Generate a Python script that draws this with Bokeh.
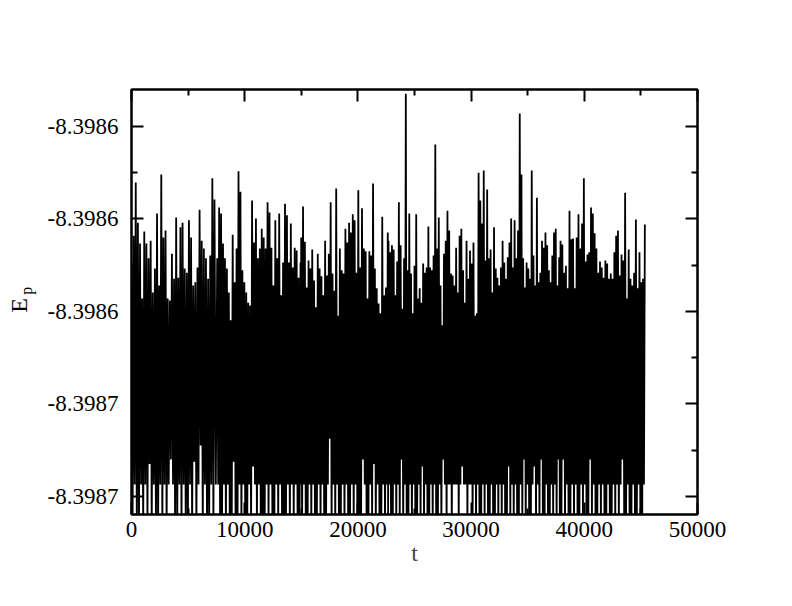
import numpy as np
from bokeh.plotting import figure
from bokeh.layouts import row
from bokeh.models import (Range1d, LinearAxis, FixedTicker, PrintfTickFormatter,
                          CustomJSTickFormatter)
from bokeh.core.properties import value
from bokeh.embed import file_html
from bokeh.resources import INLINE

# ---------------- data ----------------
E_REF = -8.39868      # reference energy
UNIT = 1e-7           # peak / low values below are in units of 1e-7 above E_REF

# time windows (start, end) of the six groups of samples
win_t = [(0, 7330), (7570, 14930), (14990, 22640),
         (22700, 30210), (30360, 37780), (37900, 45350)]

# local maxima of E_p (units of 1e-7 above E_REF)
peaks_1 = [506, 564, 679, 592, 547, 428, 573, 547, 515, 553, 441, 493, 612, 456, 696, 560,
           575, 428, 424, 525, 471, 603, 473, 582, 592, 493, 484, 597, 560, 456, 463, 495,
           620, 553, 536, 515, 471, 521, 688, 642]
peaks_2 = [515, 625, 612, 547, 515, 493, 441, 381, 566, 463, 536, 703, 659, 489, 463, 441,
           419, 413, 640, 549, 601, 515, 536, 579, 560, 536, 636, 614, 538, 456, 597, 515,
           612, 435, 506, 633, 608, 506, 590, 495, 538, 532, 473, 506]
peaks_3 = [560, 627, 551, 452, 510, 493, 534, 467, 409, 525, 493, 476, 435, 553, 478, 525,
           636, 482, 445, 666, 391, 536, 489, 482, 579, 549, 592, 571, 610, 597, 484, 662,
           495, 623, 536, 530, 428, 530, 521, 677, 493, 450, 417, 396, 605, 435, 452, 571]
peaks_4 = [553, 528, 543, 534, 435, 508, 636, 543, 406, 515, 871, 489, 612, 482, 396, 499,
           610, 428, 450, 419, 504, 484, 495, 584, 495, 489, 521, 761, 536, 603, 456, 370,
           525, 553, 618, 575, 482, 478, 456, 538, 441, 564, 579, 489, 419, 553, 471, 532,
           504, 549]
peaks_5 = [391, 396, 700, 640, 590, 705, 510, 664, 515, 534, 441, 582, 493, 473, 456, 495,
           553, 506, 471, 517, 549, 601, 495, 597, 515, 575, 828, 696, 515, 452, 506, 493,
           471, 705, 521, 456, 646, 463, 484, 553, 538, 571, 543, 489, 463, 521, 571, 579,
           456, 517]
peaks_6 = [553, 545, 484, 499, 450, 618, 556, 558, 450, 560, 610, 536, 590, 688, 508, 523,
           528, 625, 612, 569, 536, 484, 508, 495, 473, 510, 504, 471, 482, 471, 528, 564,
           575, 478, 523, 510, 657, 428, 534, 471, 456, 484, 599, 450, 528, 463, 471, 588]

# local minima between consecutive maxima (same units)
lows_1 = [-80, 26, -80, -80, 26, -80, 26, -80, 70, -80,
          26, -80, -80, 26, -80, 26, -80, 26, 80, 26,
          -80, -80, 26, -80, 26, -80, -80, 26, -80, 75,
          -80, 26, 110, -80, 26, -80, -80, 26, -80, 26]
lows_2 = [26, -80, -80, 26, -80, 26, -80, -80, 75, -80,
          -80, 26, -80, 26, -80, -80, 26, -80, 65, 26,
          -80, 26, -80, -80, -80, 26, -80, 26, -80, -80,
          26, -80, 26, -80, -80, -80, 26, -80, 26, -80,
          26, -80, -80, 26]
lows_3 = [-80, 26, -80, -80, 26, -80, 26, -80, -80, 26,
          -80, 26, -80, -80, 26, 125, -80, 26, -80, 26,
          -80, -80, 26, -80, 26, -80, -80, 26, -80, 26,
          -80, -80, -80, 80, 26, -80, -80, 26, -80, 70,
          -80, 26, -80, -80, 26, -80, 26, -80]
lows_4 = [26, -80, -80, 26, -80, 26, -80, 80, -80, 26,
          -80, -80, 26, -80, 26, -80, -80, 26, -80, 65,
          -80, 26, -80, -80, 26, -80, 26, -80, -80, 26,
          -80, 80, 26, -80, 26, 26, -80, 26, 26, 26,
          -80, 26, 65, 26, 26, -80, 26, 26, -80, 26]
lows_5 = [-80, 26, -80, -80, 26, -80, 26, -80, -80, 26,
          -80, -80, 26, -80, 26, -80, 26, -80, -80, 65,
          -80, 26, -80, 26, -80, -80, 26, -80, 80, -80,
          26, -80, -80, 26, 65, -80, 26, -80, 80, -80,
          -80, 26, -80, -80, 26, -80, 26, -80, 80, -80]
lows_6 = [-80, 80, -80, 26, -80, -80, 26, -80, 26, -80,
          -80, 26, -80, 26, -80, -80, 80, -80, 26, -80,
          -80, 26, -80, 26, -80, -80, 26, -80, -80, 26,
          -80, 26, -80, 26, 80, -80, -80, 26, -80, -80,
          26, -80, -80, 26, -80, -80, 26]

x_ticks = [0, 10000, 20000, 30000, 40000, 50000]
x_minor = [5000, 15000, 25000, 35000, 45000]
y_ticks = [-8.39868, -8.39866, -8.39864, -8.39862, -8.39860]
y_minor = [-8.39867, -8.39865, -8.39863, -8.39861]

# ---------------- build the series ----------------
peaks = [peaks_1, peaks_2, peaks_3, peaks_4, peaks_5, peaks_6]
lows = [lows_1, lows_2, lows_3, lows_4, lows_5, lows_6]
tp = np.concatenate([np.linspace(a, b, len(pk)) for (a, b), pk in zip(win_t, peaks)])
ep = E_REF + np.concatenate(peaks) * UNIT
el = E_REF + np.concatenate(lows) * UNIT
tl = (tp[:-1] + tp[1:]) / 2.0
n = len(tp)
t = np.empty(2 * n - 1)
e = np.empty(2 * n - 1)
t[0::2] = tp
e[0::2] = ep
t[1::2] = tl
e[1::2] = el

FONT = "Liberation Serif"
H = 600
LEFT_W = 40

p = figure(width=740, height=H, output_backend="svg", toolbar_location=None,
           x_range=Range1d(0, 50000), y_range=Range1d(-8.3986839, -8.398592),
           min_border_left=91, min_border_right=83, min_border_top=89, min_border_bottom=86,
           background_fill_color="white", border_fill_color="white")
p.grid.visible = False
p.outline_line_color = "black"
p.outline_line_width = 2

p.line(t, e, line_color="black", line_width=1.8, line_join="bevel")

def style(ax, labels=True):
    ax.axis_line_color = "black"
    ax.axis_line_width = 2
    ax.major_tick_in = 12
    ax.major_tick_out = 0
    ax.minor_tick_in = 6
    ax.minor_tick_out = 0
    ax.major_tick_line_width = 2
    ax.minor_tick_line_width = 2
    ax.major_label_text_font = FONT
    ax.major_label_text_font_size = "23px"
    ax.major_label_text_color = "black"
    ax.axis_label_text_font = FONT
    ax.axis_label_text_font_style = "normal"
    ax.axis_label_text_font_size = "24px"
    if not labels:
        ax.formatter = CustomJSTickFormatter(code="return ''")

xb = p.xaxis[0]
xb.ticker = FixedTicker(ticks=x_ticks, minor_ticks=x_minor)
style(xb)
xb.major_label_standoff = 7
xb.axis_label = "t"
xb.axis_label_standoff = 0

yl = p.yaxis[0]
yl.ticker = FixedTicker(ticks=y_ticks, minor_ticks=y_minor)
yl.formatter = PrintfTickFormatter(format="%.4f")
style(yl)
yl.major_label_standoff = 13

xt = LinearAxis(ticker=FixedTicker(ticks=x_ticks, minor_ticks=x_minor))
style(xt, labels=False)
p.add_layout(xt, "above")
yr = LinearAxis(ticker=FixedTicker(ticks=y_ticks, minor_ticks=y_minor))
style(yr, labels=False)
p.add_layout(yr, "right")

# narrow strip on the left holding the rotated y-axis title E_p
q = figure(width=LEFT_W, height=H, output_backend="svg", toolbar_location=None,
           x_range=Range1d(0, LEFT_W), y_range=Range1d(0, H),
           x_axis_location=None, y_axis_location=None, min_border=0,
           background_fill_color="white", border_fill_color="white")
q.grid.visible = False
q.outline_line_color = None
q.text(x=[18], y=[H - 305], text=["E"], angle=np.pi / 2, text_align="center",
       text_baseline="middle", text_font=value(FONT), text_font_size="24px",
       text_color="black")
q.text(x=[26], y=[H - 284], text=["p"], angle=np.pi / 2, text_align="center",
       text_baseline="middle", text_font=value(FONT), text_font_size="16px",
       text_color="black")

layout = row(q, p)
open("out.html", "w").write(file_html(layout, INLINE))
